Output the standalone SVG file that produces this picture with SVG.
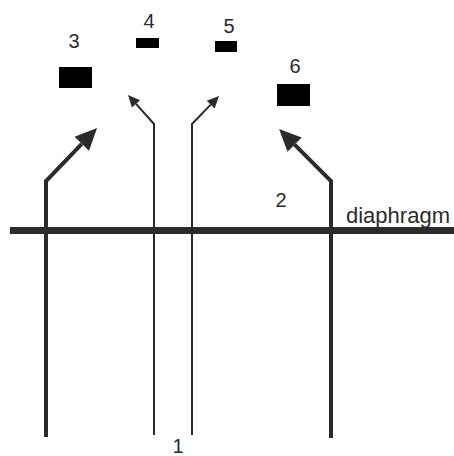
<svg xmlns="http://www.w3.org/2000/svg" width="454" height="456" viewBox="0 0 454 456">
<style>
.lbl{font-family:"Liberation Sans",Arial,sans-serif;font-size:20px;fill:#2b2b2b;text-anchor:middle}
.dia{font-family:"Liberation Sans",Arial,sans-serif;font-size:22px;fill:#2b2b2b}
.box{fill:#000}
.thick{fill:none;stroke:#2b2b2b;stroke-width:4;stroke-linejoin:miter}
.thin{fill:none;stroke:#2b2b2b;stroke-width:2;stroke-linejoin:miter}
</style>
<defs>
<marker id="headBig" markerUnits="userSpaceOnUse" markerWidth="22" markerHeight="20" viewBox="0 0 22 20" refX="0" refY="10" orient="auto" overflow="visible">
<path d="M0,0 L22,10 L0,20 z" fill="#2b2b2b"/>
</marker>
<marker id="headSmall" markerUnits="userSpaceOnUse" markerWidth="12" markerHeight="11" viewBox="0 0 12 11" refX="0" refY="5.5" orient="auto" overflow="visible">
<path d="M0,0 L12,5.5 L0,11 z" fill="#2b2b2b"/>
</marker>
</defs>
<g id="diaphragm">
<line x1="10" y1="230.5" x2="454" y2="230.5" stroke="#2b2b2b" stroke-width="7"/>
<text class="dia" x="346" y="223">diaphragm</text>
</g>
<g id="connectors">
<path class="thick" d="M46,437 L46,181 L81.8,143.8" marker-end="url(#headBig)"/>
<path class="thin" d="M154,435 L154,124 L136,103.9" marker-end="url(#headSmall)"/>
<path class="thin" d="M192,435 L192,124 L210.7,104.6" marker-end="url(#headSmall)"/>
<path class="thick" d="M331,438 L331,181 L294.6,144.6" marker-end="url(#headBig)"/>
</g>
<g id="node1"><text class="lbl" x="178" y="453">1</text></g>
<g id="node2"><text class="lbl" x="281" y="207">2</text></g>
<g id="node3"><rect class="box" x="59" y="67" width="33" height="21"/><text class="lbl" x="74" y="48">3</text></g>
<g id="node4"><rect class="box" x="136" y="38" width="23" height="10"/><text class="lbl" x="149" y="28">4</text></g>
<g id="node5"><rect class="box" x="215" y="41" width="22" height="11"/><text class="lbl" x="229" y="33">5</text></g>
<g id="node6"><rect class="box" x="277" y="84" width="33" height="22"/><text class="lbl" x="295" y="73">6</text></g>
</svg>
